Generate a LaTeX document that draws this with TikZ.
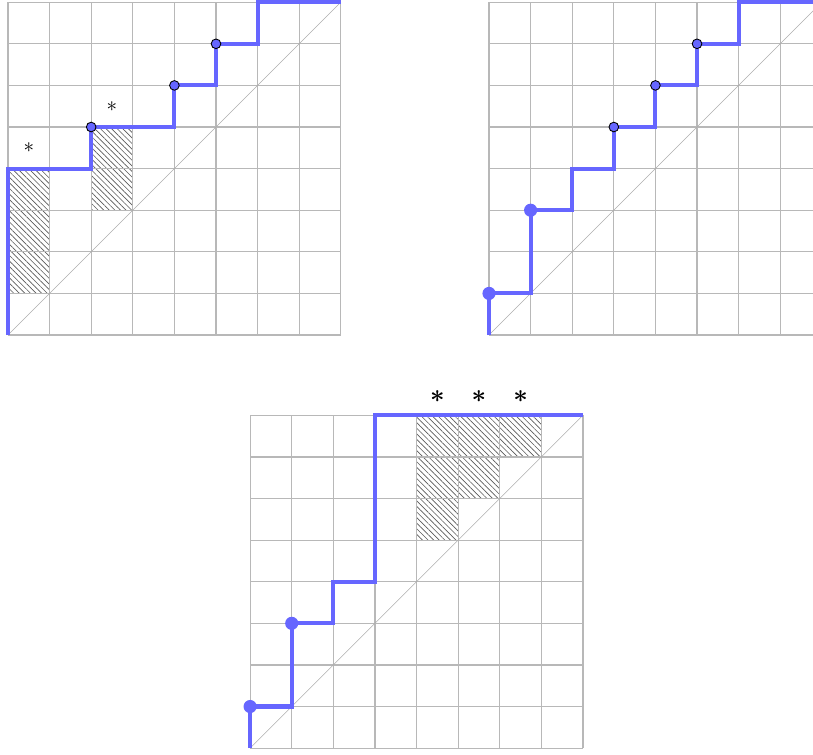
\documentclass[tikz,border=0pt]{standalone}
\usepackage{amsmath,amssymb,bm}
\usetikzlibrary{patterns.meta}
\definecolor{pathblue}{RGB}{102,102,255}
\tikzset{
  gridline/.style={draw=black!28,line width=0.8pt},
  diagline/.style={draw=black!32,line width=0.4pt},
  dyck/.style={draw=pathblue,line width=2.8pt},
  hatch/.style={pattern={Lines[angle=-45,distance=2.7pt,line width=0.45pt]},pattern color=black!65},
  smalldot/.style={circle,fill=pathblue,draw=black,line width=0.6pt,inner sep=0pt,minimum size=6.6pt},
  bigdot/.style={circle,fill=pathblue,inner sep=0pt,minimum size=9pt},
  star/.style={font=\Large},
  bigstar/.style={font=\LARGE}
}

\begin{document}
\begin{tikzpicture}[x=1cm,y=1cm]
  \useasboundingbox (-0.192,-10.072) rectangle (19.35,8.053);
  % top left
  \begin{scope}
    \fill[hatch] (0,1) rectangle (1,4) (2,3) rectangle (3,5);
    \draw[gridline] (0,0) grid (8,8);
    \draw[diagline] (0,0) -- (8,8);
    \draw[dyck] (0,0) |- (2,4) |- (4,5) |- (5,6) |- (6,7) |- (8,8);
    \node[smalldot] (a1) at (2,5) {}; \node[smalldot] (a2) at (4,6) {}; \node[smalldot] (a3) at (5,7) {};
    \node[star] (as1) at (0.5,4.5) {$\ast$}; \node[star] (as2) at (2.5,5.5) {$\ast$};
  \end{scope}
  % top right
  \begin{scope}[xshift=11.5625cm]
    \draw[gridline] (0,0) grid (8,8);
    \draw[diagline] (0,0) -- (8,8);
    \draw[dyck] (0,0) |- (1,1) |- (2,3) |- (3,4) |- (4,5) |- (5,6) |- (6,7) |- (8,8);
    \node[bigdot] (b1) at (0,1) {}; \node[bigdot] (b2) at (1,3) {};
    \node[smalldot] (b3) at (3,5) {}; \node[smalldot] (b4) at (4,6) {}; \node[smalldot] (b5) at (5,7) {};
  \end{scope}
  % bottom
  \begin{scope}[shift={(5.82cm,-9.93cm)}]
    \fill[hatch] (4,7) rectangle (7,8) (4,6) rectangle (6,7) (4,5) rectangle (5,6);
    \draw[gridline] (0,0) grid (8,8);
    \draw[diagline] (0,0) -- (8,8);
    \draw[dyck] (0,0) |- (1,1) |- (2,3) |- (3,4) |- (8,8);
    \node[bigdot] (c1) at (0,1) {}; \node[bigdot] (c2) at (1,3) {};
    \node[bigstar] (cs1) at (4.5,8.45) {$\bm{\ast}$};
    \node[bigstar] (cs2) at (5.5,8.45) {$\bm{\ast}$};
    \node[bigstar] (cs3) at (6.5,8.45) {$\bm{\ast}$};
  \end{scope}
\end{tikzpicture}
\end{document}
